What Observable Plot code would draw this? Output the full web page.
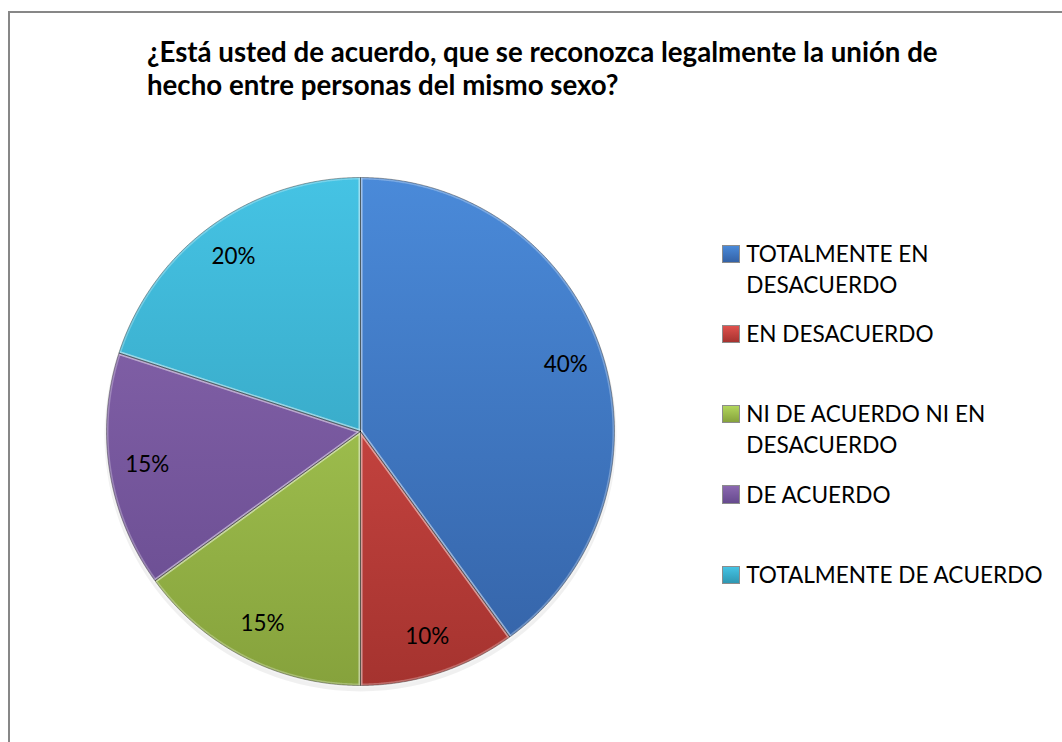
<!DOCTYPE html>
<html><head><meta charset="utf-8">
<script src="https://cdn.jsdelivr.net/npm/d3@7"></script>
<script src="https://cdn.jsdelivr.net/npm/@observablehq/plot@0.6"></script>
<style>
body{margin:0;background:#fff;}
#wrap{position:relative;width:1062px;height:742px;overflow:hidden;background:#fff;font-family:Lato,"Open Sans",sans-serif;color:#000;}
#frame{position:absolute;left:8px;top:11px;width:1200px;height:900px;border-left:2px solid #878787;border-top:2px solid #878787;}
#chart{position:absolute;left:0;top:0;}
#title{position:absolute;left:147px;font-weight:bold;line-height:33px;width:815px;}
.item{position:absolute;left:722px;display:flex;align-items:flex-start;}
.mk{width:16px;height:16px;border:1px solid #8c8c8c;margin-right:6px;flex:none;box-sizing:content-box;}
.lt{line-height:31px;}
</style></head>
<body><div id="wrap"><div id="frame"></div><div id="chart"></div><div id="title"></div><div id="legend"></div></div>
<script>
const title = "¿Está usted de acuerdo, que se reconozca legalmente la unión de hecho entre personas del mismo sexo?";
const categories = ["TOTALMENTE EN DESACUERDO","EN DESACUERDO","NI DE ACUERDO NI EN DESACUERDO","DE ACUERDO","TOTALMENTE DE ACUERDO"];
const values = [40,10,15,15,20];
const labels = ["40%","10%","15%","15%","20%"];
const topColors = ["#4a8ad9","#e0514d","#b2d65c","#8b68b0","#45c3e4"];
const bottomColors = ["#3462a6","#a5332f","#86a23c","#664a8e","#2f97b2"];

// font fitting
const ctx = document.createElement("canvas").getContext("2d");
function fit(text, weight, target){ctx.font = `${weight} 100px Lato`; return 100*target/ctx.measureText(text).width;}
const titleSize = fit("¿Está usted de acuerdo, que se reconozca legalmente la unión de","bold",791);
const legendSize = fit("TOTALMENTE DE ACUERDO","normal",297);
const labelSize = fit("40%","normal",44);

// title
const t = document.getElementById("title");
t.textContent = title;
t.style.fontSize = titleSize + "px";
t.style.top = (62 - ((33 - 1.2*titleSize)/2 + 0.987*titleSize)) + "px";

// pie geometry
const cx = 360, cy = 431, R = 254;
const arcs = d3.pie().sort(null).value(d => d)(values);
const slices = arcs.map((a, i) => {
  const pts = [{x:0,y:0,k:i}];
  const n = Math.max(2, Math.ceil((a.endAngle - a.startAngle) / 0.005));
  for (let j = 0; j <= n; j++) {
    const ang = a.startAngle + (a.endAngle - a.startAngle) * j / n;
    pts.push({x:Math.sin(ang), y:Math.cos(ang), k:i});
  }
  pts.push({x:0,y:0,k:i});
  return pts;
});
const labelData = arcs.map((a, i) => {
  const m = (a.startAngle + a.endAngle) / 2;
  return {x:0.85*Math.sin(m), y:0.85*Math.cos(m), text:labels[i]};
});

const plot = Plot.plot({
  width:1062, height:742, margin:0,
  x:{domain:[-1,1], range:[cx-R, cx+R], axis:null},
  y:{domain:[-1,1], range:[cy+R, cy-R], axis:null},
  style:{background:"transparent", overflow:"visible"},
  marks:[
    Plot.dot([{x:0,y:0}],{x:"x",y:"y",r:R+2,fill:"#000",fillOpacity:0.06,dy:4}),
    ...slices.map((s,i)=>Plot.line(s,{x:"x",y:"y",fill:`url(#g${i})`,stroke:"none"})),
    Plot.line(slices.flat(),{x:"x",y:"y",z:"k",stroke:"#fff",strokeOpacity:0.28,strokeWidth:4,strokeLinejoin:"round"}),
    Plot.line(slices.flat(),{x:"x",y:"y",z:"k",stroke:"#000",strokeOpacity:0.35,strokeWidth:1,strokeLinejoin:"round"}),
    Plot.text(labelData,{x:"x",y:"y",text:"text",fontSize:labelSize,fontFamily:"Lato",fill:"#000"})
  ]
});
const defs = d3.select(plot).insert("defs", ":first-child");
topColors.forEach((c,i)=>{
  const g = defs.append("linearGradient").attr("id",`g${i}`).attr("gradientUnits","userSpaceOnUse")
    .attr("x1",0).attr("x2",0).attr("y1",cy-R).attr("y2",cy+R);
  g.append("stop").attr("offset","0%").attr("stop-color",c);
  g.append("stop").attr("offset","100%").attr("stop-color",bottomColors[i]);
});
document.getElementById("chart").appendChild(plot);

// legend
const lg = document.getElementById("legend");
const off = (31 - 1.2*legendSize)/2 + 0.987*legendSize;
categories.forEach((c,i)=>{
  const it = document.createElement("div"); it.className="item";
  it.style.top = (262 + i*80.25 - off) + "px";
  const mk = document.createElement("div"); mk.className="mk";
  mk.style.background = `linear-gradient(to bottom, ${topColors[i]}, ${bottomColors[i]})`;
  mk.style.marginTop = (off - 0.72*legendSize - 1) + "px";
  mk.style.width = mk.style.height = (0.72*legendSize) + "px";
  const tx = document.createElement("div"); tx.className="lt";
  tx.style.fontSize = legendSize + "px"; tx.style.maxWidth = "305px";
  tx.textContent = c;
  it.appendChild(mk); it.appendChild(tx); lg.appendChild(it);
});
</script></body></html>
